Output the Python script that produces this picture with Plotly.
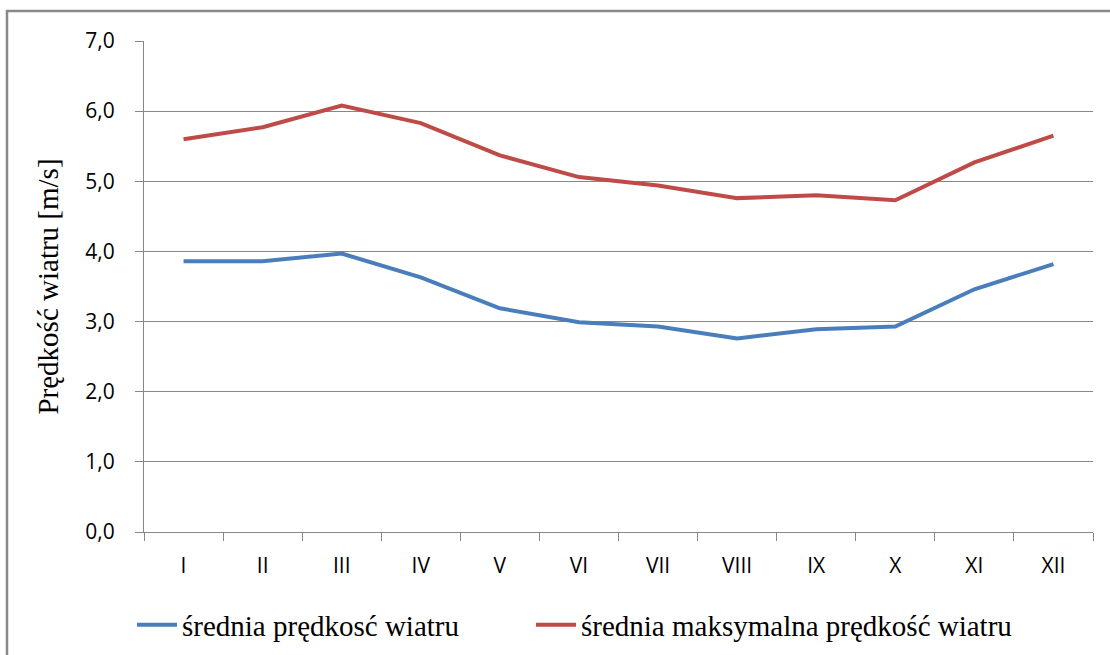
import plotly.graph_objects as go

months = ["I", "II", "III", "IV", "V", "VI", "VII", "VIII", "IX", "X", "XI", "XII"]
mean_speed = [3.86, 3.86, 3.97, 3.63, 3.19, 2.99, 2.93, 2.76, 2.89, 2.93, 3.46, 3.82]
mean_max_speed = [5.60, 5.77, 6.08, 5.83, 5.37, 5.06, 4.94, 4.76, 4.80, 4.73, 5.27, 5.65]
y_ticks = [0, 1, 2, 3, 4, 5, 6, 7]

fig = go.Figure()
fig.add_trace(go.Scatter(x=months, y=mean_speed, mode="lines",
                         name="średnia prędkosć wiatru", legend="legend",
                         line=dict(color="#4A7EBB", width=4)))
fig.add_trace(go.Scatter(x=months, y=mean_max_speed, mode="lines",
                         name="średnia maksymalna prędkość wiatru", legend="legend2",
                         line=dict(color="#BE4B48", width=4)))

L, R, T, B = 144, 17, 41, 123
W, H = 1110, 655
pw, ph = W - L - R, H - T - B

legend_font = dict(family="Liberation Serif", size=29, color="#000000")

fig.update_layout(
    width=W, height=H,
    margin=dict(l=L, r=R, t=T, b=B, autoexpand=False),
    paper_bgcolor="white", plot_bgcolor="white",
    separators=", ",
    showlegend=True,
    legend=dict(orientation="h", x=(132 - L) / pw, xanchor="left",
                y=(532 - 625) / ph, yanchor="middle",
                font=legend_font, itemwidth=40),
    legend2=dict(orientation="h", x=(531 - L) / pw, xanchor="left",
                 y=(532 - 625) / ph, yanchor="middle",
                 font=legend_font, itemwidth=40),
    xaxis=dict(type="category", range=[-0.5, 11.5], tickson="boundaries",
               ticks="outside", ticklen=8,
               tickcolor="#878787", showline=True, linecolor="#878787", linewidth=1,
               showgrid=False, ticklabelstandoff=15,
               tickfont=dict(family="Open Sans", size=21, color="#000000"),
               fixedrange=True),
    yaxis=dict(range=[0, 7], tickvals=y_ticks, tickformat=".1f",
               ticks="outside", ticklen=8, tickcolor="#878787",
               showline=True, linecolor="#878787", linewidth=1,
               showgrid=True, gridcolor="#878787", gridwidth=1,
               zeroline=False, ticklabelstandoff=16,
               tickfont=dict(family="Open Sans", size=21, color="#000000"),
               title=dict(text="Prędkość wiatru [m/s]", standoff=18,
                          font=dict(family="Liberation Serif", size=29, color="#000000"))),
    shapes=[dict(type="rect", xref="paper", yref="paper",
                 x0=(7 - L) / pw, x1=1.1, y0=-0.4, y1=1 + (T - 11) / ph,
                 line=dict(color="#898989", width=2.5), fillcolor="rgba(0,0,0,0)",
                 layer="below")],
)

fig.write_html("out.html", config={"displayModeBar": False},
               post_script="document.body.style.margin='0';")
